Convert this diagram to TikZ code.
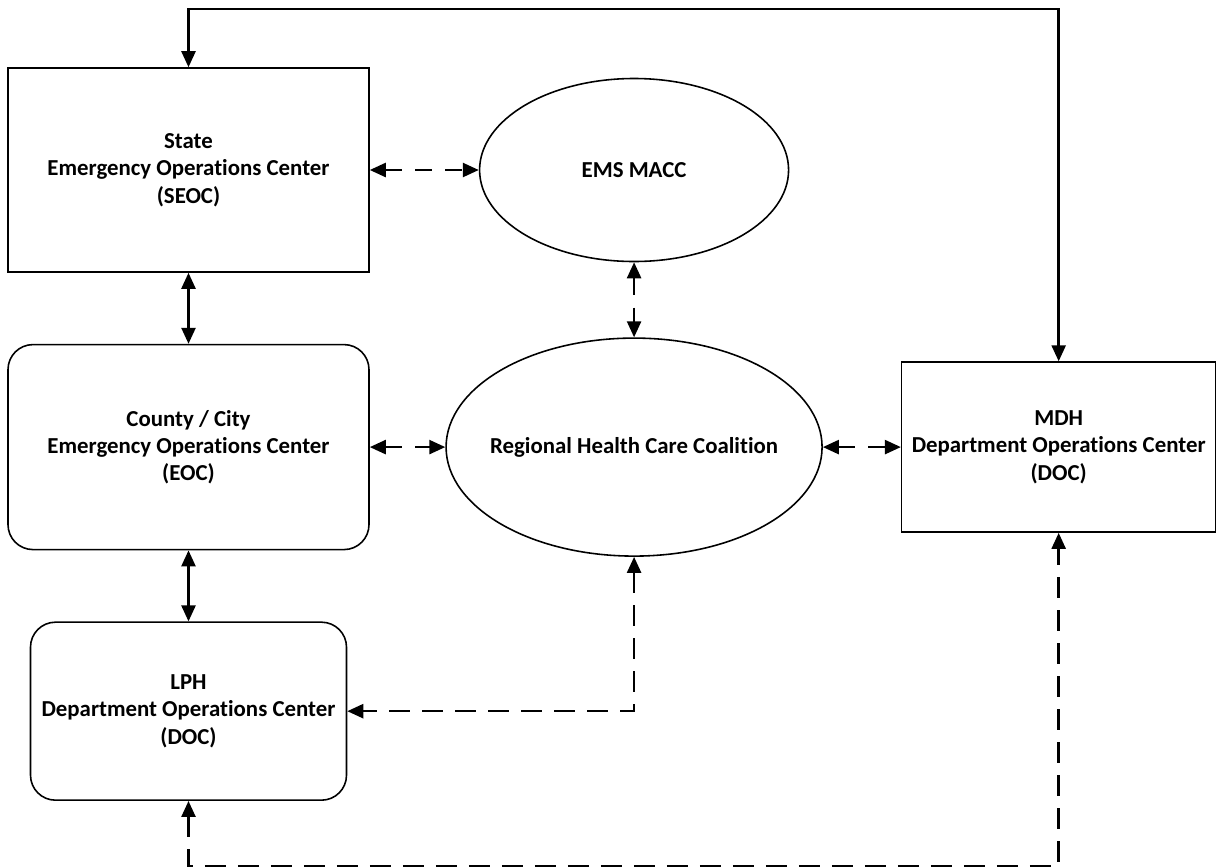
\documentclass[tikz,border=0pt]{standalone}
\usepackage{fontspec}
\setmainfont{Carlito}[Ligatures=NoCommon]
\usetikzlibrary{arrows.meta, positioning, shapes.geometric}
\tikzset{
    box/.style={rectangle, draw, line width=0.9pt, align=center, inner sep=0pt, font=\bfseries\fontsize{13}{15.5}\selectfont},
    link/.style={line width=1.4pt, {Triangle[length=0.32cm,width=0.28cm]}-{Triangle[length=0.32cm,width=0.28cm]}}
}

\begin{document}
\begin{tikzpicture}[
    roundbox/.style={box, rounded corners=0.5cm},
    ovalbox/.style={box, ellipse, inner xsep=-0.8cm},
    shortlink/.style={link, dash pattern=on 0.34cm off 0.26cm},
    raillink/.style={link, dash pattern=on 0.42cm off 0.24cm}
]
    \useasboundingbox (0,0) rectangle (24.34,-17.34);

    % State EOC
    \node (seoc) [box, minimum width=7.22cm, minimum height=4.08cm] at (3.77,-3.40) {State\\Emergency Operations Center\\(SEOC)};

    % County / City EOC
    \node (county) [roundbox, below=1.42cm of seoc, minimum width=7.22cm, minimum height=4.10cm] {County / City\\Emergency Operations Center\\(EOC)};

    % LPH DOC
    \node (lph) [roundbox, below=1.42cm of county, minimum width=6.32cm, minimum height=3.56cm] {LPH\\Department Operations Center\\(DOC)};

    % EMS MACC
    \node (ems) [ovalbox, right=2.18cm of seoc, minimum width=6.18cm, minimum height=3.66cm] {EMS MACC};

    % Regional coalition
    \node (rhcc) [ovalbox, below=1.5cm of ems, minimum width=7.52cm, minimum height=4.36cm] {Regional Health Care Coalition};

    % MDH DOC
    \node (mdh) [box, right=1.56cm of rhcc, minimum width=6.28cm, minimum height=3.40cm] {MDH\\Department Operations Center\\(DOC)};

    % Solid links
    \draw [link] (seoc) -- (county);
    \draw [link] (county) -- (lph);
    \draw [link] (seoc.north) -- ++(0,1.16) -| (mdh.north);

    % Dashed links
    \draw [shortlink] (seoc) -- (ems);
    \draw [shortlink] (ems) -- (rhcc);
    \draw [shortlink] (county) -- (rhcc);
    \draw [shortlink] (rhcc) -- (mdh);
    \draw [raillink] (rhcc.south) |- (lph.east);
    \draw [raillink] (lph.south) -- ++(0,-1.3) -| (mdh.south);

\end{tikzpicture}
\end{document}
